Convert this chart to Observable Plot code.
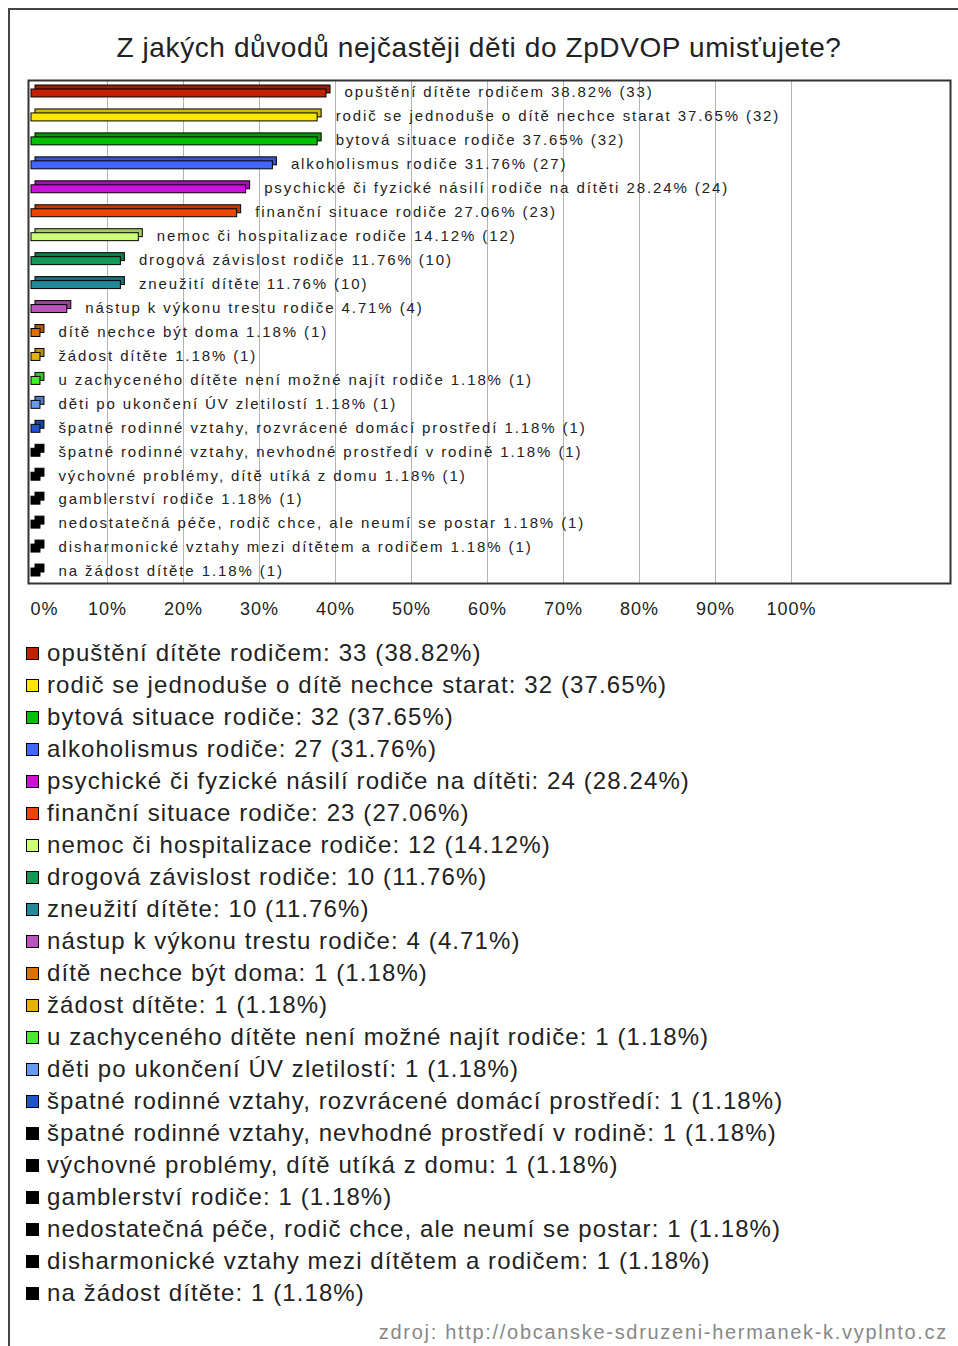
<!DOCTYPE html>
<html>
<head>
<meta charset="utf-8">
<script src="https://cdn.jsdelivr.net/npm/d3@7"></script>
<script src="https://cdn.jsdelivr.net/npm/@observablehq/plot@0.6"></script>
<style>
  html, body { margin: 0; padding: 0; background: #fff; }
  body { width: 958px; height: 1346px; position: relative; overflow: hidden; font-family: "Liberation Sans", Arial, sans-serif; }
  #frame { position: absolute; left: 8px; top: 8px; width: 960px; height: 1400px; border-left: 2px solid #444; border-top: 2px solid #444; }
  #title { position: absolute; left: 0; width: 958px; top: 30px; text-align: center; font-size: 28px; letter-spacing: 0.6px; color: #222; line-height: 36px; }
  #chart { position: absolute; left: 0; top: 70px; }
  #legend { position: absolute; left: 26px; top: 637px; }
  .item { height: 32px; line-height: 32px; font-size: 24px; color: #222; white-space: nowrap; letter-spacing: 1.1px; display: flex; align-items: center; }
  .sw { width: 11px; height: 11px; border: 1px solid #000; margin-right: 8px; flex: none; }
  #source { position: absolute; right: 10px; top: 1321px; font-size: 20px; letter-spacing: 1.7px; color: #888; }
</style>
</head>
<body>
<div id="frame"></div>
<div id="title">Z jakých důvodů nejčastěji děti do ZpDVOP umisťujete?</div>
<div id="chart"></div>
<div id="legend"></div>
<div id="source">zdroj: http://obcanske-sdruzeni-hermanek-k.vyplnto.cz</div>
<script>
const reasons = [
  "opuštění dítěte rodičem",
  "rodič se jednoduše o dítě nechce starat",
  "bytová situace rodiče",
  "alkoholismus rodiče",
  "psychické či fyzické násilí rodiče na dítěti",
  "finanční situace rodiče",
  "nemoc či hospitalizace rodiče",
  "drogová závislost rodiče",
  "zneužití dítěte",
  "nástup k výkonu trestu rodiče",
  "dítě nechce být doma",
  "žádost dítěte",
  "u zachyceného dítěte není možné najít rodiče",
  "děti po ukončení ÚV zletilostí",
  "špatné rodinné vztahy, rozvrácené domácí prostředí",
  "špatné rodinné vztahy, nevhodné prostředí v rodině",
  "výchovné problémy, dítě utíká z domu",
  "gamblerství rodiče",
  "nedostatečná péče, rodič chce, ale neumí se postar",
  "disharmonické vztahy mezi dítětem a rodičem",
  "na žádost dítěte"
];
const counts = [33, 32, 32, 27, 24, 23, 12, 10, 10, 4, 1, 1, 1, 1, 1, 1, 1, 1, 1, 1, 1];
const percents = [38.82, 37.65, 37.65, 31.76, 28.24, 27.06, 14.12, 11.76, 11.76, 4.71, 1.18, 1.18, 1.18, 1.18, 1.18, 1.18, 1.18, 1.18, 1.18, 1.18, 1.18];
const colors = ["#c42000", "#ffe600", "#00c000", "#4466ff", "#cc11dd", "#ee4400", "#ccff77", "#119955", "#22889a", "#bb55bb", "#dd7000", "#e6b400", "#44ee33", "#6699ee", "#2255cc", "#000000", "#000000", "#000000", "#000000", "#000000", "#000000"];
const tickValues = [0, 10, 20, 30, 40, 50, 60, 70, 80, 90, 100];

const data = reasons.map((r, i) => ({
  reason: r, count: counts[i], pct: percents[i], color: colors[i],
  dark: d3.color(colors[i]).darker(0.6).formatHex(),
  label: `${r} ${percents[i].toFixed(2)}% (${counts[i]})`
}));

const chart = Plot.plot({
  width: 958,
  height: 558,
  marginTop: 10,
  marginBottom: 45,
  marginLeft: 31,
  marginRight: 8,
  style: { fontFamily: "Liberation Sans, Arial, sans-serif" },
  x: { domain: [0, 120.92], axis: null, label: null },
  y: { domain: reasons, padding: 0, round: false, axis: null },
  color: { type: "identity" },
  marks: [
    Plot.gridX(tickValues.slice(1), { stroke: "#b4b4b4", strokeOpacity: 1 }),
    Plot.barX(data, { y: "reason", x: "pct", fill: "dark", stroke: "#000", strokeWidth: 1, insetTop: 9, insetBottom: 7, dx: 4, dy: -4 }),
    Plot.barX(data, { y: "reason", x: "pct", fill: "color", stroke: "#000", strokeWidth: 1, insetTop: 9, insetBottom: 7 }),
    Plot.text(data, { y: "reason", x: "pct", text: "label", dx: 18, textAnchor: "start", fontSize: 15, fill: "#222", className: "barlabel" }),
    Plot.frame({ stroke: "#333", strokeWidth: 2, insetLeft: -3 }),
    Plot.axisX([0], { tickSize: 0, tickPadding: 19, fontSize: 18, tickFormat: d => d + "%", fill: "#222", dx: 13, label: null, className: "ticklab" }),
    Plot.axisX(tickValues.slice(1), { tickSize: 0, tickPadding: 19, fontSize: 18, tickFormat: d => d + "%", fill: "#222", label: null, className: "ticklab" })
  ]
});
chart.querySelectorAll(".barlabel text").forEach(t => t.style.letterSpacing = "1.9px");
chart.querySelectorAll(".ticklab text").forEach(t => t.style.letterSpacing = "1px");
document.getElementById("chart").appendChild(chart);

const legend = document.getElementById("legend");
data.forEach(d => {
  const item = document.createElement("div");
  item.className = "item";
  const sw = document.createElement("span");
  sw.className = "sw";
  sw.style.background = d.color;
  item.appendChild(sw);
  item.appendChild(document.createTextNode(`${d.reason}: ${d.count} (${d.pct.toFixed(2)}%)`));
  legend.appendChild(item);
});
</script>
</body>
</html>
